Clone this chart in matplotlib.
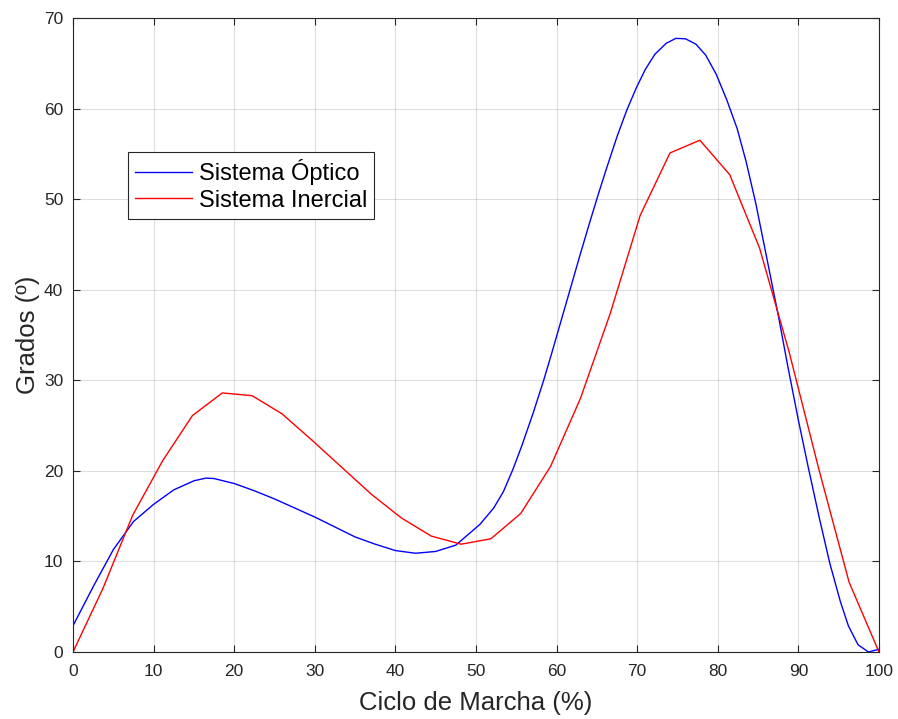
import numpy as np
import matplotlib
matplotlib.use('Agg')
import matplotlib.pyplot as plt

plt.rcParams['font.family'] = ['Liberation Sans', 'DejaVu Sans']

# Sistema Optico (blue)
x_opt = [0, 2.5, 5, 7.5, 10, 12.5, 15, 16.5, 17.5, 20, 22.5, 25, 27.5, 30, 32.5,
         35, 37.5, 40, 42.5, 45, 47.5, 50.5, 52.2, 53.4, 54.6, 55.7, 57.1, 58.4,
         59.4, 60.6, 61.9, 62.9, 64.1, 65.2, 66.2, 67.5, 68.7, 69.9, 71.0, 72.2,
         73.6, 74.8, 76.0, 77.3, 78.5, 79.8, 81.1, 82.4, 83.5, 84.7, 85.9, 87.5,
         88.7, 90.0, 91.2, 92.6, 93.9, 95.2, 96.2, 97.4, 98.7, 100]
y_opt = [2.9, 7.2, 11.3, 14.4, 16.3, 17.9, 18.9, 19.2, 19.15, 18.6, 17.8, 16.9,
         15.9, 14.9, 13.8, 12.7, 11.9, 11.2, 10.9, 11.1, 11.8, 14.1, 15.9, 17.7,
         20.2, 22.8, 26.4, 30.0, 33.0, 36.7, 40.7, 43.8, 47.4, 50.6, 53.4, 56.9,
         59.8, 62.3, 64.3, 66.0, 67.2, 67.75, 67.7, 67.1, 65.9, 63.8, 61.0, 57.8,
         54.2, 49.6, 44.3, 37.2, 31.5, 25.6, 20.5, 14.8, 9.8, 5.6, 2.9, 0.8,
         0.0, 0.3]

# Sistema Inercial (red), 28 samples
x_ine = np.linspace(0, 100, 28)
y_ine = [0.0, 7.0, 15.1, 21.1, 26.1, 28.6, 28.3, 26.3, 23.4, 20.4, 17.4, 14.8,
         12.8, 11.9, 12.5, 15.3, 20.5, 28.0, 37.4, 48.2, 55.1, 56.5, 52.7, 44.6,
         33.0, 20.0, 7.7, 0.0]

dark = '#262626'

fig = plt.figure(figsize=(8.98, 7.19), dpi=100)
ax = fig.add_axes([0.0813, 0.0932, 0.8975, 0.8818])

ax.plot(x_opt, y_opt, color='#0000ff', lw=1.0, label='Sistema Óptico')
ax.plot(x_ine, y_ine, color='#ff0000', lw=1.0, label='Sistema Inercial')

ax.set_xlim(0, 100)
ax.set_ylim(0, 70)
ax.set_xticks(range(0, 101, 10))
ax.set_yticks(range(0, 71, 10))
ax.grid(True, color=dark, alpha=0.15, lw=0.8)
ax.tick_params(direction='in', length=5, width=0.8, colors=dark,
               labelsize=12.5, top=True, right=True, pad=7)
ax.tick_params(axis='x', pad=9)
for s in ax.spines.values():
    s.set_color(dark)
    s.set_linewidth(0.8)

ax.set_xlabel('Ciclo de Marcha (%)', fontsize=18.5, color=dark, labelpad=8)
ax.set_ylabel('Grados (º)', fontsize=18.5, color=dark, labelpad=3)

leg = ax.legend(loc='upper left', bbox_to_anchor=(0.068, 0.789),
                borderaxespad=0, fontsize=17, fancybox=False, framealpha=1,
                edgecolor=dark, handlelength=2.4, borderpad=0.3,
                labelspacing=0.2, handletextpad=0.3)
leg.get_frame().set_linewidth(0.8)

fig.savefig('out.png', dpi=100)
